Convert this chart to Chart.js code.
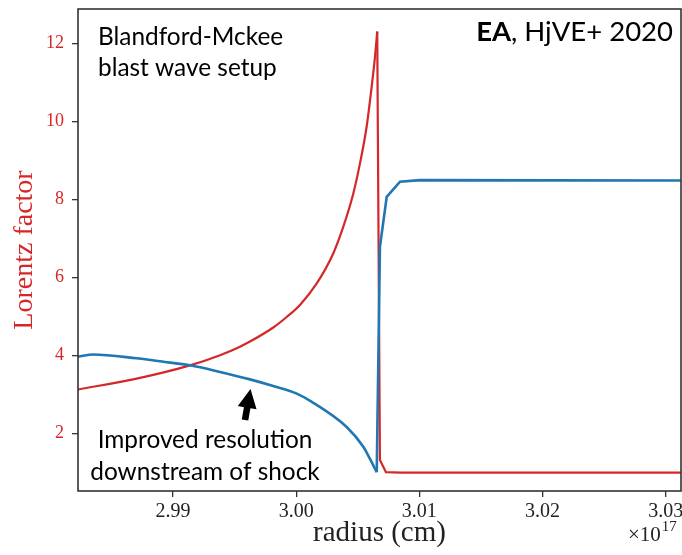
<!DOCTYPE html>
<html><head><meta charset="utf-8">
<script src="https://cdn.jsdelivr.net/npm/chart.js@4.4.1/dist/chart.umd.min.js"></script>
<style>html,body{margin:0;padding:0;background:#fff;}canvas{display:block;}</style>
</head><body>
<canvas id="c" width="682" height="555"></canvas>
<script>
// radius in units of 1e17 cm
const xTicks = [2.99, 3.00, 3.01, 3.02, 3.03];
const yTicks = [2, 4, 6, 8, 10, 12];
const xRange = [2.98229, 3.03124];
const yRange = [0.527, 12.89];

// Lorentz factor (red): smooth rise up to the shock, then the jump down
const radiusLorentzPre = [2.98229, 2.98705, 2.99138, 2.99382, 2.99544, 2.99625, 2.99814, 2.99923, 3.00031, 3.00167, 3.00301, 3.00382, 3.00464, 3.00518, 3.00572, 3.00613, 3.00640, 3.00658];
const lorentzPre = [3.13, 3.41, 3.75, 4.01, 4.23, 4.36, 4.72, 4.99, 5.30, 5.85, 6.62, 7.30, 8.16, 8.93, 9.87, 10.90, 11.67, 12.31];
const radiusLorentzPost = [3.00658, 3.00680, 3.00729, 3.00850, 3.03124];
const lorentzPost = [12.31, 1.32, 1.01, 1.00, 1.00];

// blue profile: downstream part, then the upstream jump
const radiusBluePre = [2.98229, 2.98353, 2.98705, 2.98976, 2.99138, 2.99382, 2.99625, 2.99814, 3.00000, 3.00124, 3.00410, 3.00545, 3.00599, 3.00654];
const bluePre = [3.97, 4.03, 3.93, 3.82, 3.75, 3.58, 3.39, 3.22, 3.03, 2.82, 2.17, 1.66, 1.35, 1.01];
const radiusBluePost = [3.00654, 3.00680, 3.00735, 3.00843, 3.01005, 3.03124];
const bluePost = [1.01, 6.79, 8.07, 8.46, 8.50, 8.49];

const RED = '#d62728', BLUE = '#1f77b4', INK = '#222';
const SERIF = '"Liberation Serif", "DejaVu Serif", serif';
const SANS = 'Lato, "Open Sans", sans-serif';

function fitFont(ctx, text, weight, family, target) {
  const size = 30;
  ctx.font = weight + ' ' + size + 'px ' + family;
  return size * target / ctx.measureText(text).width;
}

const decor = {
  id: 'decor',
  afterDraw(chart) {
    const ctx = chart.ctx, a = chart.chartArea;
    ctx.save();
    ctx.strokeStyle = '#333'; ctx.lineWidth = 1.6;
    ctx.strokeRect(a.left, a.top, a.right - a.left, a.bottom - a.top);

    ctx.fillStyle = '#000';
    ctx.textBaseline = 'alphabetic';
    ctx.textAlign = 'left';
    const s = fitFont(ctx, 'Blandford-Mckee', '', SANS, 185);
    ctx.font = s.toFixed(1) + 'px ' + SANS;
    ctx.fillText('Blandford-Mckee', 98, 45);
    ctx.fillText('blast wave setup', 98, 76);

    const s2 = fitFont(ctx, 'downstream of shock', '', SANS, 230);
    ctx.font = s2.toFixed(1) + 'px ' + SANS;
    ctx.textAlign = 'center';
    ctx.fillText('Improved resolution', 205, 448);
    ctx.fillText('downstream of shock', 205, 480);

    ctx.textAlign = 'left';
    const fb = 'bold 27.5px ' + SANS, fr = '27.5px ' + SANS;
    ctx.font = fb; const w1 = ctx.measureText('EA').width;
    ctx.font = fr; const w2 = ctx.measureText(', HjVE+ 2020').width;
    const x0 = 673 - (w1 + w2);
    ctx.font = fb; ctx.fillText('EA', x0, 41);
    ctx.font = fr; ctx.fillText(', HjVE+ 2020', x0 + w1, 41);

    // arrow
    const tail = [245, 420], tip = [250.5, 389];
    const dx = tip[0] - tail[0], dy = tip[1] - tail[1];
    const L = Math.hypot(dx, dy), ux = dx / L, uy = dy / L, px = -uy, py = ux;
    const hl = 19, hw = 9.5, sw = 3.3;
    const bx = tip[0] - ux * hl, by = tip[1] - uy * hl;
    ctx.beginPath();
    ctx.moveTo(tail[0] + px * sw, tail[1] + py * sw);
    ctx.lineTo(bx + px * sw, by + py * sw);
    ctx.lineTo(bx + px * hw, by + py * hw);
    ctx.lineTo(tip[0], tip[1]);
    ctx.lineTo(bx - px * hw, by - py * hw);
    ctx.lineTo(bx - px * sw, by - py * sw);
    ctx.lineTo(tail[0] - px * sw, tail[1] - py * sw);
    ctx.closePath();
    ctx.fill();

    ctx.fillStyle = INK;
    ctx.font = '21px ' + SERIF;
    ctx.fillText('\u00d710', 628, 541);
    const wx = ctx.measureText('\u00d710').width;
    ctx.font = '15px ' + SERIF;
    ctx.fillText('17', 628 + wx + 1, 531);
    ctx.restore();
  }
};

const common = {pointRadius: 0, fill: false};
new Chart(document.getElementById('c').getContext('2d'), {
  type: 'line',
  data: {
    datasets: [
      Object.assign({data: radiusBluePre.map((x, i) => ({x, y: bluePre[i]})), borderColor: BLUE, borderWidth: 2.6, cubicInterpolationMode: 'monotone'}, common),
      Object.assign({data: radiusBluePost.map((x, i) => ({x, y: bluePost[i]})), borderColor: BLUE, borderWidth: 2.6, tension: 0}, common),
      Object.assign({data: radiusLorentzPre.map((x, i) => ({x, y: lorentzPre[i]})), borderColor: RED, borderWidth: 2.2, cubicInterpolationMode: 'monotone'}, common),
      Object.assign({data: radiusLorentzPost.map((x, i) => ({x, y: lorentzPost[i]})), borderColor: RED, borderWidth: 2.2, tension: 0}, common)
    ]
  },
  options: {
    responsive: false, animation: false, devicePixelRatio: 1,
    layout: {padding: {top: 9, right: 1, left: 0, bottom: 0}},
    plugins: {legend: {display: false}, tooltip: {enabled: false}},
    scales: {
      x: {
        type: 'linear', min: xRange[0], max: xRange[1],
        afterBuildTicks: s => { s.ticks = xTicks.map(v => ({value: v})); },
        afterFit: s => { s.height = 64; s.paddingLeft = 0; s.paddingRight = 0; },
        grid: {drawOnChartArea: false, drawTicks: true, tickLength: 6, color: '#333', lineWidth: 1.3},
        border: {display: false},
        ticks: {color: INK, font: {family: SERIF, size: 20}, padding: 3, maxRotation: 0, autoSkip: false,
                callback: v => Number(v).toFixed(2)},
        title: {display: true, text: 'radius (cm)', color: INK, font: {family: SERIF, size: 29}, padding: {top: 0, bottom: 4}}
      },
      y: {
        type: 'linear', min: yRange[0], max: yRange[1],
        afterBuildTicks: s => { s.ticks = yTicks.map(v => ({value: v})); },
        afterFit: s => { s.width = 78; s.paddingTop = 0; s.paddingBottom = 0; },
        grid: {drawOnChartArea: false, drawTicks: true, tickLength: 6, color: '#333', lineWidth: 1.3},
        border: {display: false},
        ticks: {color: RED, font: {family: SERIF, size: 18}, padding: 8, autoSkip: false},
        title: {display: true, text: 'Lorentz factor', color: RED, font: {family: SERIF, size: 28}, padding: {top: 8, bottom: 0}}
      }
    }
  },
  plugins: [decor]
});
</script>
</body></html>
